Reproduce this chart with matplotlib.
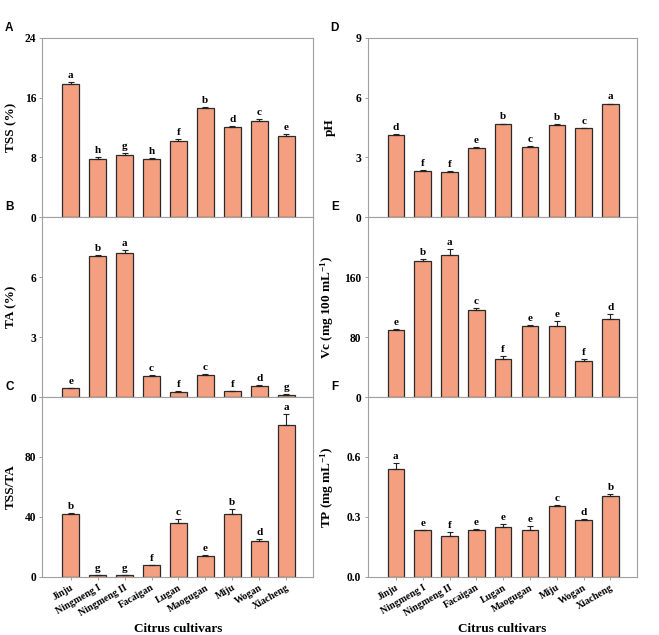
import numpy as np
import matplotlib
matplotlib.use("Agg")
import matplotlib.pyplot as plt

plt.rcParams["font.family"] = ["Liberation Serif", "DejaVu Serif"]
plt.rcParams["font.weight"] = "bold"
plt.rcParams["mathtext.fontset"] = "custom"
plt.rcParams["mathtext.rm"] = "Liberation Serif:bold"
plt.rcParams["mathtext.bf"] = "Liberation Serif:bold"
plt.rcParams["mathtext.default"] = "bf"

cultivars = ["Jinju", "Ningmeng I", "Ningmeng II", "Facaigan", "Lugan",
             "Maogugan", "Miju", "Wogan", "Xiacheng"]

tss = [17.8, 7.75, 8.28, 7.75, 10.16, 14.65, 12.1, 12.83, 10.86]
tss_err = [0.31, 0.27, 0.27, 0.18, 0.27, 0.09, 0.09, 0.31, 0.22]
tss_let = ["a", "h", "g", "h", "f", "b", "d", "c", "e"]

ta = [0.43, 7.05, 7.23, 1.05, 0.27, 1.1, 0.3, 0.55, 0.12]
ta_err = [0.02, 0.04, 0.15, 0.04, 0.02, 0.05, 0.02, 0.03, 0.01]
ta_let = ["e", "b", "a", "c", "f", "c", "f", "d", "g"]

ratio = [41.6, 0.9, 0.9, 7.6, 36.0, 13.8, 41.6, 23.8, 101.1]
ratio_err = [0.9, 0.1, 0.1, 0.2, 2.7, 0.4, 3.3, 1.1, 7.8]
ratio_let = ["b", "g", "g", "f", "c", "e", "b", "d", "a"]

ph = [4.12, 2.32, 2.29, 3.46, 4.66, 3.51, 4.63, 4.46, 5.68]
ph_err = [0.04, 0.03, 0.02, 0.04, 0.04, 0.04, 0.04, 0.03, 0.02]
ph_let = ["d", "f", "f", "e", "b", "c", "b", "c", "a"]

vc = [89.3, 182.2, 190.2, 116.4, 51.1, 94.2, 94.2, 47.6, 104.4]
vc_err = [1.0, 2.2, 8.0, 1.8, 3.1, 2.2, 7.1, 3.6, 5.8]
vc_let = ["e", "b", "a", "c", "f", "e", "e", "f", "d"]

tp = [0.538, 0.232, 0.205, 0.233, 0.248, 0.235, 0.353, 0.283, 0.405]
tp_err = [0.03, 0.003, 0.017, 0.007, 0.018, 0.018, 0.007, 0.008, 0.01]
tp_let = ["a", "e", "f", "e", "e", "e", "c", "d", "b"]

panels = [
    ("A", tss, tss_err, tss_let, "TSS (%)", [0, 8, 16, 24], ["0", "8", "16", "24"]),
    ("B", ta, ta_err, ta_let, "TA (%)", [0, 3, 6, 9], ["0", "3", "6", ""]),
    ("C", ratio, ratio_err, ratio_let, "TSS/TA", [0, 40, 80, 120], ["0", "40", "80", ""]),
    ("D", ph, ph_err, ph_let, "pH", [0, 3, 6, 9], ["0", "3", "6", "9"]),
    ("E", vc, vc_err, vc_let, r"Vc (mg 100 mL$^{-1}$)", [0, 80, 160, 240], ["0", "80", "160", ""]),
    ("F", tp, tp_err, tp_let, r"TP (mg mL$^{-1}$)", [0, 0.3, 0.6, 0.9], ["0.0", "0.3", "0.6", ""]),
]

W, H = 659, 635
fig = plt.figure(figsize=(W / 100, H / 100), dpi=100)

lefts = [42.3, 367.7]
widths = [271.0, 269.6]
label_x = [-0.094, -0.118]
tops = [37.7, 217.3, 397.0]
heights = [179.6, 179.7, 179.7]

x = np.arange(len(cultivars))

for i, (tag, vals, errs, lets, ylab, ticks, ticklabels) in enumerate(panels):
    col = i // 3
    row = i % 3
    ax = fig.add_axes([lefts[col] / W, 1 - (tops[row] + heights[row]) / H,
                       widths[col] / W, heights[row] / H])
    ax.bar(x, vals, width=0.62, color="#F4A080", edgecolor="#2a2a2a",
           linewidth=0.9, zorder=2)
    ax.errorbar(x, vals, yerr=[np.zeros(len(vals)), errs], fmt="none",
                ecolor="#222222", elinewidth=0.8, capsize=2.2, capthick=0.8,
                zorder=3)
    for xi, v, e, l in zip(x, vals, errs, lets):
        ax.annotate(l, (xi, v + e), xytext=(0, 1.5), textcoords="offset points",
                    ha="center", va="bottom", fontsize=8, fontweight="bold")
    ax.set_xlim(-1.05, 9.0)
    ax.set_ylim(ticks[0], ticks[-1])
    ax.set_yticks(ticks)
    ax.set_yticklabels(ticklabels)
    ax.set_xticks(x)
    if row == 2:
        ax.set_xticklabels(cultivars, rotation=30, ha="right",
                           rotation_mode="anchor", fontsize=7.2,
                           fontweight="bold")
        ax.set_xlabel("Citrus cultivars", fontsize=9.5, fontweight="bold",
                      labelpad=4)
    else:
        ax.set_xticklabels([])
    ax.set_ylabel(ylab, fontsize=9.5, fontweight="bold")
    ax.yaxis.set_label_coords(label_x[col], 0.5)
    for s in ax.spines.values():
        s.set_color("#a0a0a0")
        s.set_linewidth(0.8)
    ax.tick_params(axis="both", direction="out", length=2.5, width=0.7,
                   color="#a0a0a0", labelsize=8.3, pad=2)
    ax.tick_params(axis="x", labelsize=7.2)
    if row != 2:
        ax.tick_params(axis="x", length=0)
    fig.text((lefts[col] - 33) / W, 1 - (tops[row] - 10) / H, tag,
             family="Liberation Sans", fontweight="bold", fontsize=8.5,
             ha="center", va="center")

fig.savefig("out.png", dpi=100)
